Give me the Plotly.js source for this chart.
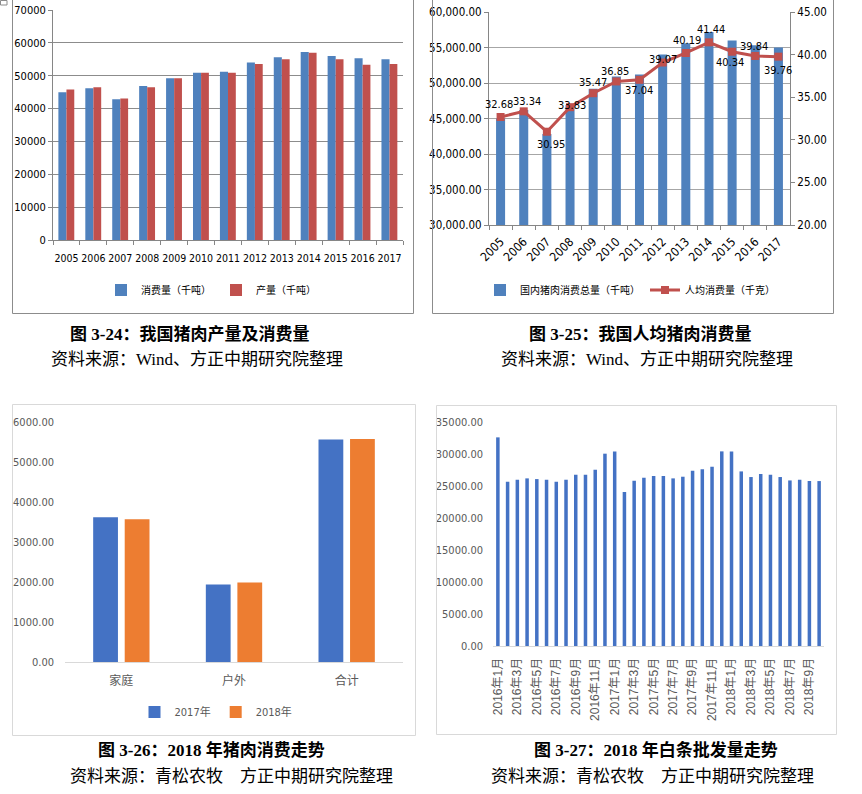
<!DOCTYPE html>
<html>
<head>
<meta charset="utf-8">
<script src="https://cdn.plot.ly/plotly-3.0.1.min.js"></script>
<style>html,body{margin:0;padding:0;background:#fff;}#chart{width:862px;height:794px;}</style>
</head>
<body>
<div id="chart"></div>
<script>
// ---------- data ----------
// Chart 3-24
const years = ['2005','2006','2007','2008','2009','2010','2011','2012','2013','2014','2015','2016','2017'];
const consumption = [45000, 46200, 42800, 46900, 49200, 50900, 51200, 54000, 55600, 57200, 56000, 55300, 55000];
const production  = [45800, 46500, 43100, 46500, 49200, 50900, 50900, 53600, 55000, 57000, 55000, 53300, 53600];
// Chart 3-25
const totalConsumption = [45000, 46200, 42800, 46900, 49200, 50900, 51200, 54000, 55600, 57200, 56000, 55300, 55000];
const perCapita = [32.68, 33.34, 30.95, 33.83, 35.47, 36.85, 37.04, 39.07, 40.19, 41.44, 40.34, 39.84, 39.76];
// Chart 3-26
const usageCats = ['家庭','户外','合计'];
const use2017 = [3620, 1935, 5560];
const use2018 = [3570, 1985, 5575];
// Chart 3-27
const months = ['2016年1月','2016年2月','2016年3月','2016年4月','2016年5月','2016年6月','2016年7月','2016年8月','2016年9月','2016年10月','2016年11月','2016年12月',
                '2017年1月','2017年2月','2017年3月','2017年4月','2017年5月','2017年6月','2017年7月','2017年8月','2017年9月','2017年10月','2017年11月','2017年12月',
                '2018年1月','2018年2月','2018年3月','2018年4月','2018年5月','2018年6月','2018年7月','2018年8月','2018年9月','2018年10月'];
const wholesale = [32600, 25670, 25980, 26190, 26080, 25980, 25670, 25980, 26760, 26760, 27540, 30050,
                   30410, 24050, 25820, 26290, 26550, 26550, 26190, 26450, 27390, 27600, 28010, 30410,
                   30410, 27280, 26400, 26870, 26760, 26400, 25870, 25980, 25770, 25770];
const monthTicks = ['2016年1月','2016年3月','2016年5月','2016年7月','2016年9月','2016年11月',
                    '2017年1月','2017年3月','2017年5月','2017年7月','2017年9月','2017年11月',
                    '2018年1月','2018年3月','2018年5月','2018年7月','2018年9月'];

// ---------- styles (label placement, px offsets from each marker) ----------
const labelDX = [-2, 3, 4, 2, 0, -1, -1, 0, 1, 2, -2, -1, 0];
const labelDY = [-12, -10, 13, -2, -11, -10, 11, -3, -12, -13, 11, -9, 14];

// ---------- helpers ----------
const W = 862, H = 794;
const px = x => x / W;
const py = y => 1 - y / H;
const NARROW = 'Liberation Sans Narrow, DejaVu Sans Condensed, Noto Sans CJK SC, sans-serif';
const CJK = 'Noto Sans CJK SC, sans-serif';
const SERIF = 'Liberation Serif, Noto Sans CJK SC, serif';
const MIX = 'Liberation Sans, Noto Sans CJK SC, sans-serif';

// ---------- traces ----------
const traces = [
  {type:'bar', x:years, y:consumption, name:'消费量（千吨）', xaxis:'x', yaxis:'y',
   marker:{color:'#4F81BD'}, width:0.3, offset:-0.3, legend:'legend'},
  {type:'bar', x:years, y:production, name:'产量（千吨）', xaxis:'x', yaxis:'y',
   marker:{color:'#C0504D'}, width:0.29, offset:0.0, legend:'legend'},

  {type:'bar', x:years, y:totalConsumption, name:'国内猪肉消费总量（千吨）', xaxis:'x2', yaxis:'y2',
   marker:{color:'#4F81BD'}, width:0.39, legend:'legend2'},
  {type:'scatter', mode:'lines+markers', x:years, y:perCapita, name:'人均消费量（千克）',
   xaxis:'x2', yaxis:'y3', legend:'legend2',
   line:{color:'#C0504D', width:3}, marker:{color:'#C0504D', symbol:'square', size:8}},

  {type:'bar', x:usageCats, y:use2017, name:'2017年', xaxis:'x3', yaxis:'y4',
   marker:{color:'#4472C4'}, width:0.22, offset:-0.25, legend:'legend3'},
  {type:'bar', x:usageCats, y:use2018, name:'2018年', xaxis:'x3', yaxis:'y4',
   marker:{color:'#ED7D31'}, width:0.22, offset:0.03, legend:'legend3'},

  {type:'bar', x:months, y:wholesale, name:'白条批发量', xaxis:'x4', yaxis:'y5',
   marker:{color:'#4472C4'}, width:0.36, showlegend:false}
];

// ---------- frames ----------
function line(x0,y0,x1,y1,color){
  return {type:'line', xref:'paper', yref:'paper', x0:px(x0), y0:py(y0), x1:px(x1), y1:py(y1),
          line:{color:color, width:1}};
}
function rect(x0,y0,x1,y1,color){
  return {type:'rect', xref:'paper', yref:'paper', x0:px(x0), y0:py(y0), x1:px(x1), y1:py(y1),
          line:{color:color, width:1}, fillcolor:'rgba(0,0,0,0)'};
}
const shapes = [
  line(12.5,0,12.5,313.5,'#8c8c8c'), line(12.5,313.5,413.5,313.5,'#8c8c8c'), line(413.5,0,413.5,313.5,'#8c8c8c'),
  rect(0.5,0.5,7,5,'#8c8c8c'),
  line(432.5,0,432.5,313.5,'#8c8c8c'), line(432.5,313.5,833.5,313.5,'#8c8c8c'), line(833.5,0,833.5,313.5,'#8c8c8c'),
  rect(12.5,404.5,415.5,735.5,'#d9d9d9'),
  rect(436.5,405.5,836.5,734.5,'#d9d9d9')
];

// ---------- captions ----------
function cap(text,x,y,bold){
  return {text: bold ? '<b>'+text+'</b>' : text, x:px(x), y:py(y), xref:'paper', yref:'paper',
          showarrow:false, xanchor:'center', yanchor:'middle',
          font:{family:SERIF, size:17, color:'#000'}};
}
const annotations = [
  cap('图 3-24：我国猪肉产量及消费量', 189, 334, true),
  cap('资料来源：Wind、方正中期研究院整理', 197, 359, false),
  cap('图 3-25：我国人均猪肉消费量', 640, 334, true),
  cap('资料来源：Wind、方正中期研究院整理', 647, 359, false),
  cap('图 3-26：2018 年猪肉消费走势', 211, 750, true),
  cap('资料来源：青松农牧　方正中期研究院整理', 231, 776, false),
  cap('图 3-27：2018 年白条批发量走势', 656, 750, true),
  cap('资料来源：青松农牧　方正中期研究院整理', 652, 776, false)
];
// data labels for per-capita line, placed on the chart's own axes (category index)
perCapita.forEach((v, i) => {
  annotations.push({x: i, y: v, xref:'x2', yref:'y3', text: v.toFixed(2), showarrow:false,
    xanchor:'center', yanchor:'middle', xshift: labelDX[i], yshift: -labelDY[i],
    font:{family:'DejaVu Sans Condensed, Liberation Sans, sans-serif', size:11, color:'#000'}});
});

const legendBase = {orientation:'h', xanchor:'center', yanchor:'middle', bgcolor:'rgba(0,0,0,0)',
                    itemwidth:30, traceorder:'normal'};

const layout = {
  width:W, height:H, margin:{l:0,r:0,t:0,b:0},
  paper_bgcolor:'#fff', plot_bgcolor:'#fff', barmode:'overlay', showlegend:true,
  font:{family:NARROW, color:'#000'},
  // chart 1
  xaxis:{domain:[px(53),px(403)], anchor:'y', type:'category', tickson:'boundaries', ticks:'outside',
         ticklen:4, tickcolor:'#868686', showline:true, linecolor:'#868686', linewidth:1, tickangle:0,
         ticklabelstandoff:8, tickfont:{family:NARROW, size:10.5, color:'#000'}},
  yaxis:{domain:[py(240),py(10)], anchor:'x', range:[0,70000], dtick:10000, tickformat:'d',
         showgrid:true, gridcolor:'#8c8c8c', showline:true, linecolor:'#868686', ticks:'outside',
         ticklen:4, tickcolor:'#868686', zeroline:false, tickfont:{family:NARROW, size:11, color:'#000'}},
  // chart 2
  xaxis2:{domain:[px(489),px(790)], anchor:'y2', type:'category', range:[-0.5, 12.5], autorange:false,
          tickson:'boundaries', ticks:'outside',
          ticklen:4, tickcolor:'#868686', tickangle:-45, showline:true, linecolor:'#868686',
          ticklabelstandoff:4, tickfont:{family:NARROW, size:12, color:'#000'}},
  yaxis2:{domain:[py(225),py(12)], anchor:'x2', range:[30000,60000], dtick:5000, tickformat:',.2f',
          showgrid:true, gridcolor:'#a6a6a6', showline:true, linecolor:'#868686', ticks:'outside',
          ticklen:4, tickcolor:'#868686', zeroline:false, tickfont:{family:NARROW, size:11.5, color:'#000'}},
  yaxis3:{overlaying:'y2', side:'right', anchor:'x2', range:[20,45], dtick:5, tickformat:'.2f',
          showgrid:false, showline:true, linecolor:'#868686', ticks:'outside', ticklen:4,
          tickcolor:'#868686', zeroline:false, tickfont:{family:NARROW, size:11.5, color:'#000'}},
  // chart 3
  xaxis3:{domain:[px(65),px(403)], anchor:'y4', type:'category', showline:true, linecolor:'#d9d9d9',
          ticks:'', ticklabelstandoff:8, tickfont:{family:CJK, size:12, color:'#595959'}},
  yaxis4:{domain:[py(662),py(422)], anchor:'x3', range:[0,6000], dtick:1000, tickformat:'.2f',
          showgrid:false, zeroline:false, showline:false, ticklabelstandoff:10,
          tickfont:{family:NARROW, size:11, color:'#595959'}},
  // chart 4
  xaxis4:{domain:[px(493),px(824)], anchor:'y5', type:'category', showline:true, linecolor:'#d9d9d9',
          tickmode:'array', tickvals:monthTicks, ticktext:monthTicks, tickangle:-90, ticks:'',
          ticklabelstandoff:6, tickfont:{family:MIX, size:12, color:'#595959'}},
  yaxis5:{domain:[py(646),py(422)], anchor:'x4', range:[0,35000], dtick:5000, tickformat:'.2f',
          showgrid:false, zeroline:false, showline:false, ticklabelstandoff:9,
          tickfont:{family:NARROW, size:11, color:'#595959'}},
  legend: Object.assign({}, legendBase, {x:px(211), y:py(290), font:{family:CJK, size:10, color:'#000'}}),
  legend2: Object.assign({}, legendBase, {x:px(630), y:py(290), font:{family:CJK, size:10, color:'#000'}}),
  legend3: Object.assign({}, legendBase, {x:px(216), y:py(712), font:{family:NARROW, size:11, color:'#595959'}}),
  shapes: shapes,
  annotations: annotations
};

Plotly.newPlot('chart', traces, layout, {displayModeBar:false, staticPlot:true});
</script>
</body>
</html>
